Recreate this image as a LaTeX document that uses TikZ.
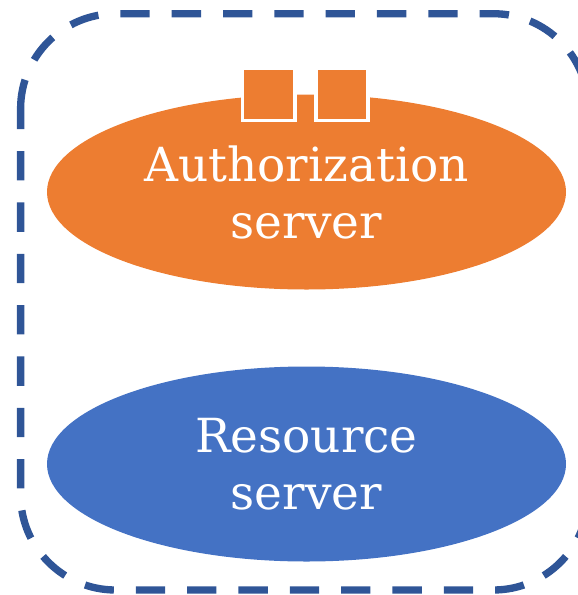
\documentclass[tikz,border=0pt]{standalone}
\usepackage{fontspec}
\setmainfont{DejaVu Serif}
\usetikzlibrary{shapes.geometric}
\definecolor{orangefill}{HTML}{ED7D31}
\definecolor{bluefill}{HTML}{4472C4}
\definecolor{dashblue}{HTML}{2F5597}
\tikzset{
  server/.style={ellipse,minimum width=519pt,minimum height=195pt,inner sep=0pt,text=white,align=center,font=\fontsize{47}{57}\selectfont},
  portbox/.style={rectangle,draw=white,line width=3.8pt,fill=orangefill,minimum width=52.5pt,minimum height=52.5pt,inner sep=0pt},
  frameline/.style={draw=dashblue,line width=7.33pt,dash pattern=on 29.33pt off 22pt}
}
\begin{document}
\begin{tikzpicture}[x=1pt,y=-1pt]
\useasboundingbox (0,0) rectangle (578,595);
\begin{scope}
\clip (0,0) rectangle (578,595);
\draw[frameline] (20.6,108.7)
  .. controls (20.6,56.2) and (63.1,13.7) .. (115.6,13.7)
  -- (493.3,13.7)
  .. controls (545.8,13.7) and (588.3,56.2) .. (588.3,108.7)
  -- (588.3,495)
  .. controls (588.3,547.5) and (545.8,590) .. (493.3,590)
  -- (115.6,590)
  .. controls (63.1,590) and (20.6,547.5) .. (20.6,495)
  -- cycle;
\end{scope}
\node[server,fill=orangefill] (auth) at (306.5,192) {Authorization\\server};
\node[server,fill=bluefill] (res) at (306.5,464) {Resource\\server};
\node[portbox] (p1) at (268.8,94.2) {};
\node[portbox] (p2) at (342,94.2) {};
\end{tikzpicture}
\end{document}
